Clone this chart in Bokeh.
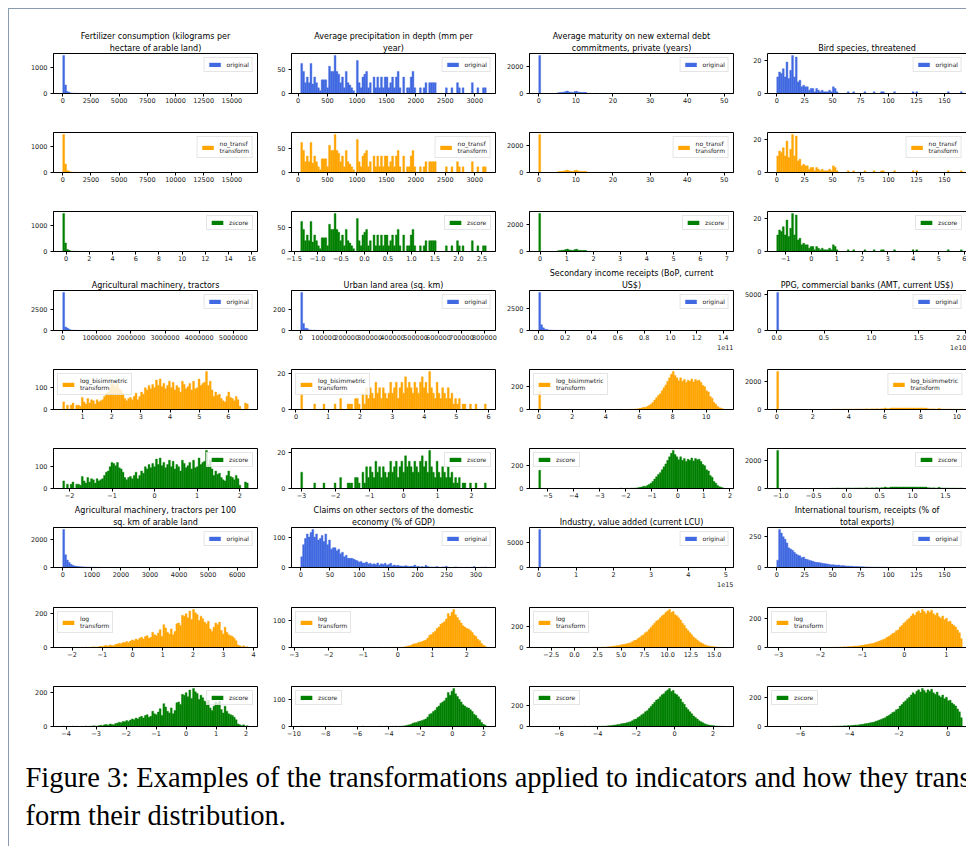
import numpy as np
from bokeh.plotting import figure
from bokeh.layouts import column, row
from bokeh.models import (Range1d, FixedTicker, LinearAxis, Legend, LegendItem, Label, Title,
                          CustomJSTickFormatter, AllLabels, Spacer)
from bokeh.embed import file_html
from bokeh.resources import INLINE

N_BINS = 100


def sparse(head, tail_idx=(), tail_cnt=()):
    out = list(head) + [0] * (N_BINS - len(head))
    for i, c in zip(tail_idx, tail_cnt):
        out[i] = c
    return out

# ------------------------------------------------------------------ data
# 1 Fertilizer consumption
fert_range = (0.0, 16450.0)
fert_head = [1480, 330, 80, 45, 20, 12, 8, 5, 4, 3, 2, 2, 1, 1, 1]
fert_tail_idx = [17, 20, 24, 29, 35, 41, 48, 56, 63, 72, 80, 88, 99]
fert_tail_cnt = [1, 1, 1, 1, 1, 1, 1, 1, 1, 1, 1, 1, 1]
fert_z_range = (-0.29, 15.7)

# 2 Average precipitation
prec_range = (45.0, 3195.0)
prec_counts = [64, 47, 23, 35, 23, 64, 20, 35, 23, 12,
               6, 29, 29, 29, 12, 58, 47, 47, 81, 47,
               41, 23, 35, 12, 47, 23, 18, 12, 6, 0,
               70, 23, 12, 35, 41, 47, 12, 23, 0, 35,
               12, 35, 12, 35, 12, 35, 35, 12, 23, 35,
               12, 35, 47, 12, 0, 35, 0, 12, 12, 35,
               47, 12, 0, 0, 12, 0, 12, 23, 0, 23,
               23, 23, 23, 0, 0, 0, 0, 0, 12, 0,
               0, 12, 0, 0, 23, 12, 0, 12, 0, 0,
               0, 0, 23, 0, 0, 12, 0, 0, 12, 12]
prec_z_range = (-1.357, 2.593)

# 3 Average maturity
mat_range = (0.0, 50.0)
mat_head = [2850, 0, 0, 0, 0, 0, 0, 0, 0, 0,
            60, 80, 90, 100, 150, 180, 120, 100, 80, 150, 170, 100, 90, 80, 90, 70]
mat_tail_idx = [27, 30, 34, 40, 48, 60, 70, 80, 99]
mat_tail_cnt = [20, 10, 8, 5, 4, 3, 2, 2, 1]
mat_z_range = (-0.05, 6.9)

# 4 Bird species
bird_range = (0.0, 166.0)
bird_head = [10, 13, 12, 15, 10, 19, 9, 14, 23, 10, 22, 7, 8, 4, 5, 4, 4, 2, 3, 3,
             1, 3, 2, 1, 2, 1, 1, 1, 2, 1, 4, 3, 1, 0]
bird_tail_idx = [38, 41, 47, 52, 56, 57, 63, 73, 75, 92, 99]
bird_tail_cnt = [1, 1, 1, 1, 1, 1, 1, 1, 1, 1, 1]
bird_z_range = (-1.35, 5.92)

# 5 Agricultural machinery, tractors
trac_range = (0.0, 5.44e6)
trac_head = [4550, 430, 300, 150, 60, 40, 25, 15, 10, 8, 6, 5, 4, 3, 2, 2, 1, 1]
trac_tail_idx = [20, 23, 27, 31, 36, 42, 50, 61, 75, 99]
trac_tail_cnt = [1, 1, 1, 1, 1, 1, 1, 1, 1, 1]
trac_t_range = (0.32, 6.68)
trac_t_counts = [35, 0, 20, 0, 20, 30, 0, 20, 20, 15,
                 55, 35, 25, 50, 30, 45, 40, 25, 45, 35,
                 40, 45, 60, 75, 80, 100, 120, 115, 105, 120,
                 95, 90, 75, 50, 40, 50, 55, 45, 60, 75,
                 45, 60, 80, 70, 100, 90, 110, 95, 115, 100,
                 135, 110, 140, 105, 120, 95, 110, 130, 100, 125,
                 90, 110, 100, 80, 130, 115, 95, 105, 120, 90,
                 130, 95, 100, 140, 110, 120, 125, 175, 110, 130,
                 90, 60, 80, 65, 70, 50, 40, 35, 60, 80,
                 55, 50, 40, 60, 45, 15, 0, 0, 30, 25]
trac_z_range = (-2.16, 2.2)

# 6 Urban land area
urb_range = (0.0, 808000.0)
urb_head = [370, 68, 22, 20, 6, 4, 3, 2, 2, 1]
urb_tail_idx = [12, 15, 19, 24, 33, 45, 60, 99]
urb_tail_cnt = [1, 1, 1, 1, 1, 1, 1, 1]
urb_t_range = (0.15, 5.93)
urb_t_counts = [9, 0, 0, 0, 0, 0, 0, 3, 0, 0,
                0, 0, 3, 0, 0, 0, 0, 0, 3, 0,
                0, 6, 0, 0, 0, 3, 3, 3, 0, 6,
                6, 3, 0, 9, 3, 12, 6, 12, 9, 6,
                15, 9, 12, 6, 12, 9, 6, 9, 15, 9,
                12, 15, 6, 12, 15, 9, 18, 12, 15, 12,
                9, 15, 12, 9, 15, 18, 12, 15, 9, 21,
                12, 9, 6, 15, 9, 6, 12, 9, 6, 12,
                6, 9, 3, 6, 3, 6, 0, 3, 3, 0,
                0, 3, 0, 0, 3, 0, 0, 0, 0, 3]
urb_z_range = (-3.02, 2.43)

# 7 Secondary income receipts (x in units of 1e11)
sec_range = (0.0, 1.408)
sec_offset = "1e11"
sec_head = [4350, 650, 300, 150, 100, 60, 40, 30, 20, 15, 12, 10, 8, 6, 5, 4, 3, 3, 2, 2]
sec_tail_idx = [22, 25, 29, 34, 40, 47, 55, 66, 80, 99]
sec_tail_cnt = [2, 1, 1, 1, 1, 1, 1, 1, 1, 1]
sec_t_range = (0.0, 11.08)
sec_t_counts = [155, 0, 0, 0, 0, 0, 0, 0, 0, 0,
                0, 0, 0, 0, 0, 0, 0, 0, 0, 0,
                0, 0, 0, 0, 0, 0, 0, 0, 0, 0,
                0, 0, 2, 0, 0, 0, 0, 0, 0, 0,
                0, 0, 0, 0, 3, 0, 0, 2, 0, 3,
                2, 3, 4, 6, 10, 12, 20, 18, 25, 35,
                45, 60, 80, 100, 120, 135, 160, 185, 210, 240,
                270, 300, 325, 290, 270, 245, 270, 240, 255, 230,
                250, 240, 260, 235, 255, 245, 250, 230, 205, 195,
                160, 150, 110, 95, 60, 45, 25, 15, 10, 5]
sec_z_range = (-5.35, 1.78)

# 8 PPG, commercial banks (x in units of 1e10)
ppg_range = (0.0, 1.962)
ppg_offset = "1e10"
ppg_head = [5230, 40, 12, 6, 4, 3, 2, 2, 1, 1]
ppg_tail_idx = [13, 18, 25, 35, 50, 70, 99]
ppg_tail_cnt = [1, 1, 1, 1, 1, 1, 1]
ppg_t_range = (0.0, 10.3)
ppg_t_counts = [2700, 0, 0, 0, 0, 0, 0, 0, 0, 0,
                0, 0, 0, 0, 0, 0, 0, 0, 0, 0,
                0, 0, 0, 0, 0, 0, 0, 0, 0, 15,
                20, 10, 30, 25, 15, 20, 30, 25, 35, 30,
                25, 30, 35, 30, 40, 35, 30, 40, 45, 35,
                40, 45, 35, 50, 45, 40, 50, 55, 110, 60,
                55, 100, 110, 105, 110, 100, 105, 100, 110, 105,
                110, 105, 100, 110, 105, 100, 100, 110, 105, 100,
                100, 50, 45, 40, 45, 40, 35, 90, 40, 35,
                30, 35, 30, 25, 20, 25, 20, 15, 20, 30]
ppg_z_range = (-1.061, 1.754)

# 9 Agricultural machinery, tractors per 100 sq. km
tpk_range = (0.0, 6380.0)
tpk_head = [2740, 920, 540, 360, 230, 160, 110, 90, 70, 55, 45, 40, 35, 30, 28, 25, 22, 20,
            15, 8, 5, 4, 3, 3, 2, 2, 2, 1]
tpk_tail_idx = [30, 34, 38, 45, 52, 60, 70, 85, 99]
tpk_tail_cnt = [1, 1, 1, 1, 1, 1, 1, 1, 1]
tpk_t_range = (-2.31, 3.82)
tpk_t_counts = [2, 0, 1, 0, 0, 2, 0, 1, 0, 0,
                1, 0, 3, 0, 2, 1, 4, 3, 2, 5,
                8, 5, 10, 12, 8, 15, 12, 10, 18, 20,
                25, 22, 30, 28, 35, 30, 38, 45, 40, 50,
                45, 55, 60, 50, 65, 70, 55, 60, 90, 75,
                70, 85, 105, 65, 135, 115, 90, 80, 110, 75,
                95, 140, 145, 130, 190, 185, 200, 175, 215, 165,
                225, 205, 195, 160, 185, 170, 150, 140, 155, 110,
                95, 120, 145, 135, 150, 100, 80, 120, 90, 75,
                70, 65, 55, 40, 15, 10, 5, 10, 3, 5]
tpk_z_range = (-4.11, 2.07)

# 10 Claims on other sectors
clm_range = (0.0, 317.7)
clm_counts = [35, 75, 95, 110, 100, 115, 125, 100, 110, 90,
              95, 105, 85, 110, 75, 90, 60, 65, 65, 55,
              60, 45, 50, 35, 40, 30, 30, 30, 28, 25,
              22, 18, 20, 15, 15, 18, 12, 14, 10, 12,
              10, 15, 8, 12, 10, 14, 8, 10, 14, 6,
              8, 6, 7, 5, 5, 4, 6, 5, 3, 4,
              4, 8, 3, 4, 2, 3, 2, 7, 3, 2,
              2, 1, 2, 3, 1, 1, 2, 2, 4, 1,
              1, 0, 1, 2, 1, 0, 1, 0, 0, 1,
              0, 1, 0, 3, 0, 0, 0, 1, 0, 2]
clm_t_range = (-2.806, 2.56)
clm_t_counts = [1, 0, 0, 0, 0, 0, 0, 0, 0, 0,
                0, 0, 0, 0, 0, 1, 0, 0, 0, 0,
                0, 0, 0, 0, 0, 0, 0, 0, 0, 0,
                0, 0, 0, 1, 0, 0, 0, 0, 0, 0,
                0, 0, 1, 0, 0, 0, 1, 0, 0, 1,
                0, 1, 0, 1, 1, 2, 3, 5, 6, 8,
                12, 14, 15, 18, 20, 22, 25, 28, 35, 45,
                48, 55, 60, 70, 75, 85, 90, 95, 105, 125,
                115, 130, 140, 120, 110, 100, 90, 80, 75, 70,
                68, 62, 55, 45, 40, 30, 25, 15, 8, 5]
clm_z_range = (-9.57, 2.15)

# 11 Industry, value added (x in units of 1e15)
ind_range = (0.0, 4.96)
ind_offset = "1e15"
ind_head = [7600, 5, 2, 1, 1]
ind_tail_idx = [8, 15, 30, 60, 99]
ind_tail_cnt = [1, 1, 1, 1, 1]
ind_t_range = (-3.84, 16.08)
ind_t_counts = [1, 0, 0, 1, 0, 0, 0, 1, 0, 0,
                0, 1, 0, 0, 1, 0, 0, 0, 1, 0,
                1, 0, 1, 0, 2, 1, 0, 2, 1, 2,
                2, 1, 3, 2, 4, 3, 5, 6, 8, 10,
                12, 15, 18, 20, 25, 28, 30, 35, 40, 45,
                55, 65, 70, 85, 95, 110, 120, 140, 150, 170,
                190, 210, 230, 250, 260, 280, 300, 310, 330, 345,
                360, 330, 340, 310, 300, 280, 260, 230, 210, 180,
                160, 140, 120, 100, 85, 70, 55, 45, 35, 25,
                20, 15, 12, 10, 8, 5, 4, 3, 2, 1]
ind_z_range = (-7.06, 2.58)

# 12 International tourism, receipts
tour_range = (0.0, 166.0)
tour_head = [60, 310, 280, 250, 230, 200, 160, 150, 140, 125,
             110, 100, 95, 80, 85, 70, 65, 60, 55, 50,
             45, 42, 40, 38, 35, 32, 30, 28, 25, 22,
             22, 20, 18, 20, 15, 16, 14, 12, 12, 10,
             10, 9, 8, 8, 7, 6, 6, 5, 5, 4,
             4, 3, 3, 2, 3, 2, 2, 1, 2, 1]
tour_tail_idx = [63, 68, 74, 81, 90, 99]
tour_tail_cnt = [1, 1, 1, 1, 1, 1]
tour_t_range = (-3.04, 1.38)
tour_t_counts = [1, 0, 0, 0, 0, 0, 0, 1, 0, 0,
                 0, 0, 1, 0, 0, 0, 1, 0, 0, 1,
                 0, 1, 0, 0, 1, 0, 1, 0, 1, 1,
                 2, 1, 3, 2, 4, 3, 5, 4, 6, 5,
                 7, 8, 10, 9, 12, 14, 15, 18, 20, 22,
                 25, 28, 30, 35, 40, 45, 50, 55, 60, 70,
                 75, 85, 95, 100, 115, 120, 140, 150, 165, 175,
                 190, 200, 215, 230, 220, 240, 250, 235, 260, 245,
                 230, 250, 240, 255, 230, 220, 235, 210, 200, 215,
                 190, 200, 175, 180, 160, 150, 140, 120, 100, 60]
tour_z_range = (-6.96, 0.58)

titles = [
    ["Fertilizer consumption (kilograms per", "hectare of arable land)"],
    ["Average precipitation in depth (mm per", "year)"],
    ["Average maturity on new external debt", "commitments, private (years)"],
    ["Bird species, threatened"],
    ["Agricultural machinery, tractors"],
    ["Urban land area (sq. km)"],
    ["Secondary income receipts (BoP, current", "US$)"],
    ["PPG, commercial banks (AMT, current US$)"],
    ["Agricultural machinery, tractors per 100", "sq. km of arable land"],
    ["Claims on other sectors of the domestic", "economy (% of GDP)"],
    ["Industry, value added (current LCU)"],
    ["International tourism, receipts (% of", "total exports)"],
]

legend_labels = {
    "orig": "original",
    "none": "no_transf\ntransform",
    "bisym": "log_bisimmetric\ntransform",
    "log": "log\ntransform",
    "z": "zscore",
}

caption_lines = [
    "Figure 3: Examples of the transformations applied to indicators and how they trans-",
    "form their distribution.",
]

# tick values per panel (row, col)
xticks = [
    [[0, 2500, 5000, 7500, 10000, 12500, 15000], [0, 500, 1000, 1500, 2000, 2500, 3000],
     [0, 10, 20, 30, 40, 50], [0, 25, 50, 75, 100, 125, 150, 175]],
    [[0, 2500, 5000, 7500, 10000, 12500, 15000], [0, 500, 1000, 1500, 2000, 2500, 3000],
     [0, 10, 20, 30, 40, 50], [0, 25, 50, 75, 100, 125, 150, 175]],
    [[0, 2, 4, 6, 8, 10, 12, 14, 16], [-1.5, -1.0, -0.5, 0.0, 0.5, 1.0, 1.5, 2.0, 2.5],
     [0, 1, 2, 3, 4, 5, 6, 7], [-1, 0, 1, 2, 3, 4, 5, 6]],
    [[0, 1000000, 2000000, 3000000, 4000000, 5000000],
     [0, 100000, 200000, 300000, 400000, 500000, 600000, 700000, 800000],
     [0.0, 0.2, 0.4, 0.6, 0.8, 1.0, 1.2, 1.4], [0.0, 0.5, 1.0, 1.5, 2.0]],
    [[0, 1, 2, 3, 4, 5, 6, 7], [0, 1, 2, 3, 4, 5, 6], [0, 2, 4, 6, 8, 10], [0, 2, 4, 6, 8, 10]],
    [[-2, -1, 0, 1, 2], [-3, -2, -1, 0, 1, 2], [-5, -4, -3, -2, -1, 0, 1, 2],
     [-1.0, -0.5, 0.0, 0.5, 1.0, 1.5]],
    [[0, 1000, 2000, 3000, 4000, 5000, 6000], [0, 50, 100, 150, 200, 250, 300],
     [0, 1, 2, 3, 4, 5], [0, 25, 50, 75, 100, 125, 150, 175]],
    [[-2, -1, 0, 1, 2, 3, 4], [-3, -2, -1, 0, 1, 2],
     [-2.5, 0.0, 2.5, 5.0, 7.5, 10.0, 12.5, 15.0], [-3, -2, -1, 0, 1]],
    [[-4, -3, -2, -1, 0, 1, 2], [-10, -8, -6, -4, -2, 0, 2], [-6, -4, -2, 0, 2], [-6, -4, -2, 0]],
]
yticks = [
    [[0, 1000], [0, 50], [0, 2000], [0, 20]],
    [[0, 1000], [0, 50], [0, 2000], [0, 20]],
    [[0, 1000], [0, 50], [0, 2000], [0, 20]],
    [[0, 2500], [0, 200], [0, 2500], [0, 5000]],
    [[0, 100], [0, 20], [0, 200], [0, 2000]],
    [[0, 100], [0, 20], [0, 200], [0, 2000]],
    [[0, 2000], [0, 100], [0, 5000], [0, 250]],
    [[0, 200], [0, 100], [0, 200], [0, 200]],
    [[0, 200], [0, 100], [0, 200], [0, 200]],
]
legend_loc = [
    ["top_right"] * 4, ["top_right"] * 4, ["top_right"] * 4, ["top_right"] * 4,
    ["top_left", "top_left", "top_left", "top_right"],
    ["top_right", "top_right", "top_left", "top_right"],
    ["top_right"] * 4,
    ["top_left"] * 4,
    ["top_right", "top_left", "top_left", "top_left"],
]

# ------------------------------------------------------------------ assemble series
fert = sparse(fert_head, fert_tail_idx, fert_tail_cnt)
mat = sparse(mat_head, mat_tail_idx, mat_tail_cnt)
bird = sparse(bird_head, bird_tail_idx, bird_tail_cnt)
trac = sparse(trac_head, trac_tail_idx, trac_tail_cnt)
urb = sparse(urb_head, urb_tail_idx, urb_tail_cnt)
sec = sparse(sec_head, sec_tail_idx, sec_tail_cnt)
ppg = sparse(ppg_head, ppg_tail_idx, ppg_tail_cnt)
tpk = sparse(tpk_head, tpk_tail_idx, tpk_tail_cnt)
ind = sparse(ind_head, ind_tail_idx, ind_tail_cnt)
tour = sparse(tour_head, tour_tail_idx, tour_tail_cnt)

ORIG, TRANS, ZC = "royalblue", "orange", "green"

blocks = [
    [(fert, fert_range, fert, fert_range, fert_z_range, "none", None),
     (prec_counts, prec_range, prec_counts, prec_range, prec_z_range, "none", None),
     (mat, mat_range, mat, mat_range, mat_z_range, "none", None),
     (bird, bird_range, bird, bird_range, bird_z_range, "none", None)],
    [(trac, trac_range, trac_t_counts, trac_t_range, trac_z_range, "bisym", None),
     (urb, urb_range, urb_t_counts, urb_t_range, urb_z_range, "bisym", None),
     (sec, sec_range, sec_t_counts, sec_t_range, sec_z_range, "bisym", sec_offset),
     (ppg, ppg_range, ppg_t_counts, ppg_t_range, ppg_z_range, "bisym", ppg_offset)],
    [(tpk, tpk_range, tpk_t_counts, tpk_t_range, tpk_z_range, "log", None),
     (clm_counts, clm_range, clm_t_counts, clm_t_range, clm_z_range, "log", None),
     (ind, ind_range, ind_t_counts, ind_t_range, ind_z_range, "log", ind_offset),
     (tour, tour_range, tour_t_counts, tour_t_range, tour_z_range, "log", None)],
]

# ------------------------------------------------------------------ layout constants
COL_L = [44, 30, 30, 30]
COL_R = [4, 4, 4, 0]
FRAME_W = [204, 204, 204, 199]
FULL_W = 204
FRAME_H = 40
ROW_T = [44, 22, 22, 25, 17, 22, 25, 19, 22]
ROW_B = [17, 17, 14, 22, 17, 14, 21, 17, 17]
FONT = "DejaVu Sans"
TICK_COLOR = "#1a1a1a"
PAGE_LINE = "#8a9bb0"

FMT_CODE = """
const s = Math.abs(tick).toFixed(d);
return (tick < -1e-12 ? '\u2212' : '') + s;
"""


def style_axis(ax, ticks, standoff):
    d = 0 if all(float(t).is_integer() for t in ticks) else 1
    ax.ticker = FixedTicker(ticks=ticks)
    ax.formatter = CustomJSTickFormatter(args=dict(d=d), code=FMT_CODE)
    ax.major_label_policy = AllLabels()
    ax.major_tick_out = 3
    ax.major_tick_in = 0
    ax.minor_tick_line_color = None
    ax.major_tick_line_color = "black"
    ax.axis_line_color = "black"
    ax.major_label_text_font = FONT
    ax.major_label_text_font_size = "6.5px"
    ax.major_label_text_color = TICK_COLOR
    ax.major_label_standoff = standoff


def panel(r, c, counts, rng, color, label, title=None, offset=None):
    lo, hi = rng
    n = len(counts)
    edges = np.linspace(lo, hi, n + 1)
    span = hi - lo
    xs = lo - 0.05 * span
    xe_full = hi + 0.05 * span
    xe = xs + (xe_full - xs) * FRAME_W[c] / FULL_W
    ymax = max(counts) * 1.05
    p = figure(width=COL_L[c] + FRAME_W[c] + COL_R[c], height=ROW_T[r] + FRAME_H + ROW_B[r],
               x_range=Range1d(xs, xe), y_range=Range1d(0, ymax),
               output_backend="svg", toolbar_location=None,
               min_border_left=COL_L[c], min_border_right=COL_R[c],
               min_border_top=ROW_T[r], min_border_bottom=ROW_B[r])
    p.xgrid.visible = False
    p.ygrid.visible = False
    p.background_fill_color = "white"
    p.border_fill_color = "white"
    style_axis(p.xaxis[0], xticks[r][c], 1)
    style_axis(p.yaxis[0], yticks[r][c], 3)
    if c == 3:
        p.outline_line_color = None
        top = LinearAxis(ticker=FixedTicker(ticks=[]), major_label_text_font_size="0px",
                         major_tick_line_color=None, minor_tick_line_color=None,
                         axis_line_color="black", major_label_standoff=0)
        p.add_layout(top, "above")
    else:
        p.outline_line_color = "black"
        p.outline_line_width = 1
        p.outline_line_alpha = 1.0
    rend = p.quad(left=edges[:-1], right=edges[1:], top=counts, bottom=0,
                  fill_color=color, line_color=color, line_width=0.4)
    leg = Legend(items=[LegendItem(label=label, renderers=[rend])], location=legend_loc[r][c],
                 label_text_font=FONT, label_text_font_size="6px", label_text_color=TICK_COLOR,
                 glyph_width=14, glyph_height=5, label_height=6, label_standoff=5,
                 padding=3, spacing=0, margin=4, border_line_color="#cccccc",
                 border_line_width=1, background_fill_alpha=0.8, label_text_line_height=1.1)
    p.add_layout(leg)
    if title is not None:
        # lines are stacked from the frame outward: last line nearest the frame
        for k, line in enumerate(reversed(title)):
            p.add_layout(Title(text=line, align="center", text_font=FONT,
                               text_font_size="8px", text_font_style="normal",
                               text_color="black", standoff=2 if k == 0 else 0,
                               text_line_height=1.05), "above")
    if offset is not None:
        p.add_layout(Title(text=offset, align="right", text_font=FONT, text_font_size="6.5px",
                           text_font_style="normal", text_color=TICK_COLOR, standoff=0),
                     "below")
    return p


rows = []
for b, block in enumerate(blocks):
    r0 = 3 * b
    r_orig, r_tr, r_z = [], [], []
    for c, (oc, orng, tc, trng, zrng, kind, off) in enumerate(block):
        r_orig.append(panel(r0, c, oc, orng, ORIG, legend_labels["orig"],
                            title=titles[4 * b + c], offset=off))
        r_tr.append(panel(r0 + 1, c, tc, trng, TRANS, legend_labels[kind]))
        r_z.append(panel(r0 + 2, c, tc, zrng, ZC, legend_labels["z"]))
    rows += [row(*r_orig), row(*r_tr), row(*r_z)]

CAP_H = 103
cap = figure(width=957, height=CAP_H, x_range=Range1d(0, 957), y_range=Range1d(0, CAP_H),
             output_backend="svg", toolbar_location=None, min_border=0)
cap.axis.visible = False
cap.grid.visible = False
cap.outline_line_color = None
cap_baselines = [34, 72]   # px below the top of the caption area
for txt, yb in zip(caption_lines, cap_baselines):
    cap.add_layout(Label(x=16, y=CAP_H - yb, text=txt, text_align="left",
                         text_baseline="alphabetic", text_font="Liberation Serif",
                         text_font_size="28.5px", text_color="black"))

main = column(*rows, cap)
main_h = 734 + CAP_H
top_line = row(Spacer(width=8, height=1),
               Spacer(width=958, height=1, styles={"background-color": PAGE_LINE}))
body = row(Spacer(width=8, height=main_h),
           Spacer(width=1, height=main_h, styles={"background-color": PAGE_LINE}),
           main)
layout = column(Spacer(width=966, height=8), top_line, body)

open("out.html", "w").write(file_html(layout, INLINE))
